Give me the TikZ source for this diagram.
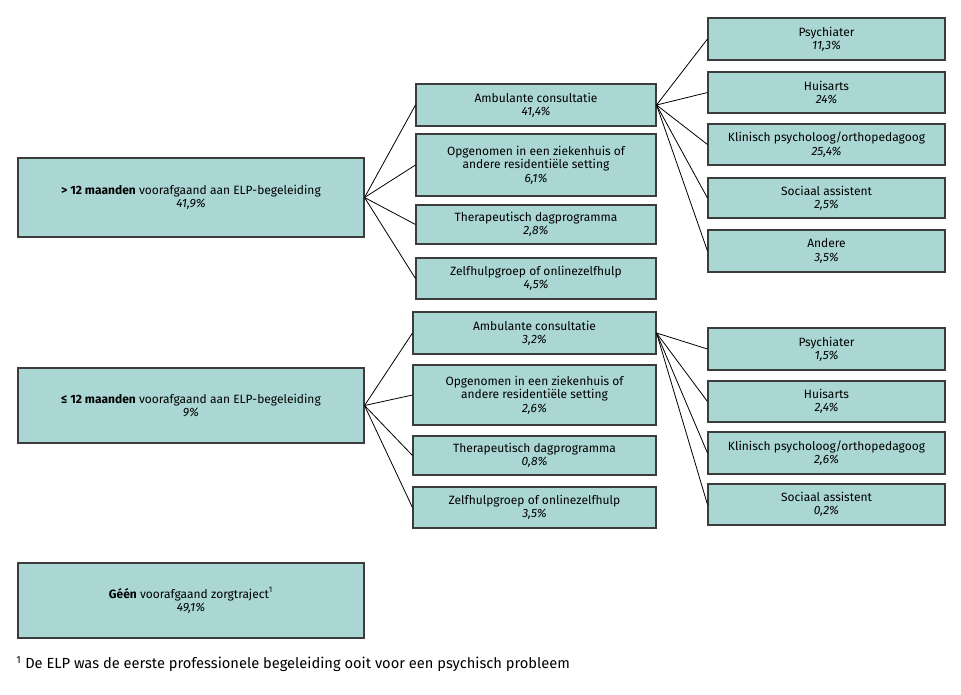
\documentclass[tikz,border=0pt]{standalone}
\usepackage{fontspec}
\setmainfont{Fira Sans}
\definecolor{boxfill}{RGB}{170,215,212}
\definecolor{boxline}{RGB}{60,60,60}
\tikzset{
  box/.style={draw=boxline, fill=boxfill, line width=0.8pt, align=center, inner sep=0pt,
    font=\fontsize{9}{10}\selectfont},
  link/.style={draw=black, line width=0.6pt}
}
\newcommand{\pct}[1]{\textit{#1}}
\begin{document}
\begin{tikzpicture}[x=0.75pt,y=-0.75pt]
\useasboundingbox (0,0) rectangle (961,694);

% Links
\node[box, minimum width=346*0.75pt, minimum height=79*0.75pt] (tl) at (191,197.5) {\textbf{> 12 maanden} voorafgaand aan ELP-begeleiding\\\pct{41,9\%}};
\node[box, minimum width=346*0.75pt, minimum height=75*0.75pt] (ml) at (191,405.5) {\textbf{≤ 12 maanden} voorafgaand aan ELP-begeleiding\\\pct{9\%}};
\node[box, minimum width=346*0.75pt, minimum height=75*0.75pt] (bl) at (191,600.5) {\textbf{Géén} voorafgaand zorgtraject\textsuperscript{1}\\\pct{49,1\%}};

% Midden boven
\node[box, minimum width=240*0.75pt, minimum height=42*0.75pt] (ta) at (536,105) {Ambulante consultatie\\\pct{41,4\%}};
\node[box, minimum width=240*0.75pt, minimum height=62*0.75pt] (to) at (536,165) {Opgenomen in een ziekenhuis of\\andere residentiële setting\\\pct{6,1\%}};
\node[box, minimum width=240*0.75pt, minimum height=39*0.75pt] (tt) at (536,224.5) {Therapeutisch dagprogramma\\\pct{2,8\%}};
\node[box, minimum width=240*0.75pt, minimum height=41*0.75pt] (tz) at (536,278.5) {Zelfhulpgroep of onlinezelfhulp\\\pct{4,5\%}};

% Midden onder
\node[box, minimum width=243*0.75pt, minimum height=42*0.75pt] (ba) at (534.5,333) {Ambulante consultatie\\\pct{3,2\%}};
\node[box, minimum width=243*0.75pt, minimum height=60*0.75pt] (bo) at (534.5,395) {Opgenomen in een ziekenhuis of\\andere residentiële setting\\\pct{2,6\%}};
\node[box, minimum width=243*0.75pt, minimum height=39*0.75pt] (bt) at (534.5,455.5) {Therapeutisch dagprogramma\\\pct{0,8\%}};
\node[box, minimum width=243*0.75pt, minimum height=41*0.75pt] (bz) at (534.5,507.5) {Zelfhulpgroep of onlinezelfhulp\\\pct{3,5\%}};

% Rechts boven
\node[box, minimum width=237*0.75pt, minimum height=42*0.75pt] (tps) at (826.5,39) {Psychiater\\\pct{11,3\%}};
\node[box, minimum width=237*0.75pt, minimum height=41*0.75pt] (thu) at (826.5,92.5) {Huisarts\\\pct{24\%}};
\node[box, minimum width=237*0.75pt, minimum height=41*0.75pt] (tkl) at (826.5,144.5) {Klinisch psycholoog/orthopedagoog\\\pct{25,4\%}};
\node[box, minimum width=237*0.75pt, minimum height=40*0.75pt] (tso) at (826.5,198) {Sociaal assistent\\\pct{2,5\%}};
\node[box, minimum width=237*0.75pt, minimum height=42*0.75pt] (tan) at (826.5,251) {Andere\\\pct{3,5\%}};

% Rechts onder
\node[box, minimum width=237*0.75pt, minimum height=42*0.75pt] (bps) at (826.5,349) {Psychiater\\\pct{1,5\%}};
\node[box, minimum width=237*0.75pt, minimum height=41*0.75pt] (bhu) at (826.5,401.5) {Huisarts\\\pct{2,4\%}};
\node[box, minimum width=237*0.75pt, minimum height=42*0.75pt] (bkl) at (826.5,453) {Klinisch psycholoog/orthopedagoog\\\pct{2,6\%}};
\node[box, minimum width=237*0.75pt, minimum height=41*0.75pt] (bso) at (826.5,504.5) {Sociaal assistent\\\pct{0,2\%}};

% Verbindingen
\foreach \m in {ta,to,tt,tz} \draw[link] (tl.east) -- (\m.west);
\foreach \m in {ba,bo,bt,bz} \draw[link] (ml.east) -- (\m.west);
\foreach \r in {tps,thu,tkl,tso,tan} \draw[link] (ta.east) -- (\r.west);
\foreach \r in {bps,bhu,bkl,bso} \draw[link] (ba.east) -- (\r.west);

% Voetnoot
\node[anchor=west, font=\fontsize{11}{12}\selectfont, inner sep=0pt] (fn) at (16,664) {\textsuperscript{1} De ELP was de eerste professionele begeleiding ooit voor een psychisch probleem};
\end{tikzpicture}
\end{document}
